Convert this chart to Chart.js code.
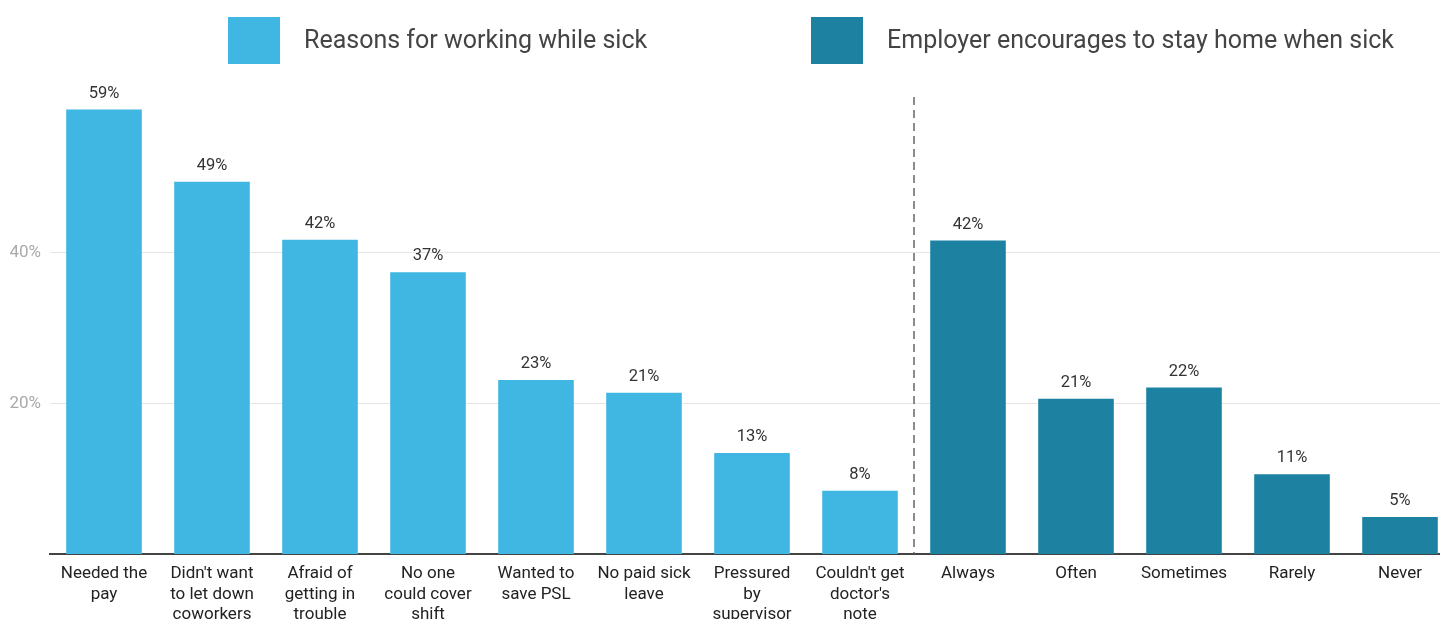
<!DOCTYPE html>
<html lang="en">
<head>
    <meta charset="UTF-8">
    <title>Working while sick</title>
    <script src="https://cdn.jsdelivr.net/npm/chart.js"></script>
    <style>
        body { margin: 0; overflow: hidden; background: #fff; }
        .chart-container { position: relative; width: 1460px; height: 619px; }
    </style>
</head>
<body>
    <div class="chart-container">
        <canvas id="sickChart"></canvas>
    </div>

    <script>
        // Reasons for working while sick (% of respondents)
        const reasonLabels = [
            ['Needed the', 'pay'],
            ["Didn't want", 'to let down', 'coworkers'],
            ['Afraid of', 'getting in', 'trouble'],
            ['No one', 'could cover', 'shift'],
            ['Wanted to', 'save PSL'],
            ['No paid sick', 'leave'],
            ['Pressured', 'by', 'supervisor'],
            ["Couldn't get", "doctor's", 'note']
        ];
        const reasonValues = [59, 49.4, 41.7, 37.4, 23.1, 21.4, 13.4, 8.4];

        // Employer encourages to stay home when sick
        const employerLabels = ['Always', 'Often', 'Sometimes', 'Rarely', 'Never'];
        const employerValues = [41.6, 20.6, 22.1, 10.6, 4.9];

        const yTicks = [20, 40];

        const seriesNames = ['Reasons for working while sick', 'Employer encourages to stay home when sick'];
        const seriesColors = ['#40b6e3', '#1d82a2'];

        const categories = reasonLabels.concat(employerLabels);
        const reasonData = reasonValues.concat(employerLabels.map(() => null));
        const employerData = reasonLabels.map(() => null).concat(employerValues);

        // value labels above each bar
        const valueLabels = {
            id: 'valueLabels',
            afterDatasetsDraw(chart) {
                const ctx = chart.ctx;
                ctx.save();
                ctx.font = '16.5px Roboto';
                ctx.fillStyle = '#333';
                ctx.textAlign = 'center';
                ctx.textBaseline = 'middle';
                chart.data.datasets.forEach((ds, i) => {
                    chart.getDatasetMeta(i).data.forEach((bar, j) => {
                        const v = ds.data[j];
                        if (v === null) return;
                        ctx.fillText(Math.round(v) + '%', bar.x, bar.y - 16);
                    });
                });
                ctx.restore();
            }
        };

        // dashed divider between the two groups
        const divider = {
            id: 'divider',
            afterDatasetsDraw(chart) {
                const x = chart.scales.x;
                const px = (x.getPixelForValue(reasonLabels.length - 1) + x.getPixelForValue(reasonLabels.length)) / 2;
                const ctx = chart.ctx;
                ctx.save();
                ctx.strokeStyle = '#666';
                ctx.lineWidth = 1.5;
                ctx.setLineDash([8, 5]);
                ctx.beginPath();
                ctx.moveTo(px, 97);
                ctx.lineTo(px, chart.chartArea.bottom);
                ctx.stroke();
                ctx.restore();
            }
        };

        // legend row at the top
        const legendRow = {
            id: 'legendRow',
            afterDraw(chart) {
                const ctx = chart.ctx;
                const lefts = [228, 811];
                ctx.save();
                ctx.font = '25px Roboto';
                ctx.textBaseline = 'middle';
                ctx.textAlign = 'left';
                chart.data.datasets.forEach((ds, i) => {
                    ctx.fillStyle = ds.backgroundColor;
                    ctx.fillRect(lefts[i], 17, 52, 47);
                    ctx.fillStyle = '#444';
                    ctx.fillText(ds.label, lefts[i] + 76, 42);
                });
                ctx.restore();
            }
        };

        new Chart(document.getElementById('sickChart'), {
            type: 'bar',
            data: {
                labels: categories,
                datasets: [
                    { label: seriesNames[0], data: reasonData, backgroundColor: seriesColors[0] },
                    { label: seriesNames[1], data: employerData, backgroundColor: seriesColors[1] }
                ]
            },
            options: {
                responsive: true,
                maintainAspectRatio: false,
                animation: false,
                grouped: false,
                barPercentage: 0.7,
                categoryPercentage: 1,
                layout: { padding: { top: 102, right: 6, left: 0, bottom: 0 } },
                plugins: {
                    legend: { display: false },
                    tooltip: { enabled: false }
                },
                scales: {
                    x: {
                        grid: { display: false, drawTicks: false },
                        border: { color: '#444', width: 2 },
                        ticks: {
                            autoSkip: false,
                            maxRotation: 0,
                            padding: 10,
                            color: '#222',
                            font: { family: 'Roboto', size: 17, lineHeight: 1.2 }
                        },
                        afterFit: (s) => { s.height = 65; }
                    },
                    y: {
                        min: 0,
                        max: 60,
                        border: { display: false },
                        grid: { color: '#e6e6e6', drawTicks: false },
                        ticks: {
                            stepSize: 20,
                            padding: 9,
                            color: '#aaa',
                            font: { family: 'Roboto', size: 17 },
                            callback: (v) => v + '%'
                        },
                        afterBuildTicks: (s) => { s.ticks = yTicks.map(v => ({ value: v })); },
                        afterFit: (s) => { s.width = 50; }
                    }
                }
            },
            plugins: [valueLabels, divider, legendRow]
        });
    </script>
</body>
</html>
